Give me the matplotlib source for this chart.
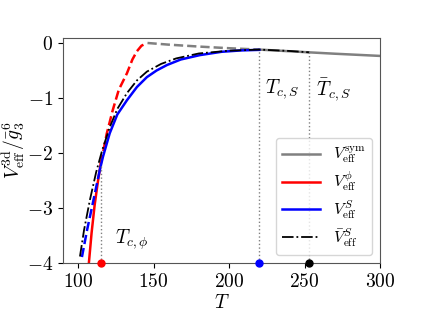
import matplotlib
matplotlib.use("Agg")
import matplotlib.pyplot as plt

plt.rcParams["font.family"] = "serif"
plt.rcParams["font.serif"] = ["cmr10"]
plt.rcParams["mathtext.fontset"] = "cm"
plt.rcParams["axes.formatter.use_mathtext"] = True
plt.rcParams["font.size"] = 14

# symmetric phase
T_sym = [146, 160, 180, 200, 220, 240, 253, 270, 285, 300]
V_sym = [0.0, -0.03, -0.065, -0.095, -0.12, -0.15, -0.17, -0.195, -0.215, -0.235]

# phi phase: solid (stable) and dashed (metastable)
T_phi_solid = [107.2, 109, 111, 113, 115]
V_phi_solid = [-4.0, -3.45, -2.95, -2.55, -2.2]
T_phi_dash = [115, 116.5, 119, 123, 127, 132.4, 136, 139, 142, 145.6]
V_phi_dash = [-2.2, -2.0, -1.65, -1.22, -0.85, -0.55, -0.3, -0.15, -0.05, 0.0]

# S phase
T_S_dash = [102.6, 106, 109.9, 114.5]
V_S_dash = [-3.89, -3.4, -2.9, -2.3]
T_S_solid = [114.5, 116.5, 121, 126, 132.4, 139, 145.6, 152, 158.9, 168, 180.7, 195, 208, 220]
V_S_solid = [-2.3, -2.07, -1.64, -1.3, -1.04, -0.8, -0.62, -0.5, -0.4, -0.3, -0.22, -0.16, -0.135, -0.125]

# bar S
T_Sb = [101.3, 104, 107.9, 112, 116, 121, 126, 132.4, 139, 145.6, 155, 165, 180, 200, 220, 240, 253]
V_Sb = [-3.88, -3.4, -2.85, -2.35, -1.95, -1.53, -1.2, -0.91, -0.68, -0.52, -0.38, -0.28, -0.19, -0.14, -0.12, -0.145, -0.17]

Tc_phi, Vc_phi = 115, -2.2
Tc_S, Vc_S = 219.8, -0.125
Tc_Sb, Vc_Sb = 253, -0.17

fig = plt.figure(figsize=(4.22, 3.17), dpi=100)
ax = fig.add_axes([0.149, 0.170, 0.752, 0.710])

ax.plot(T_sym[:5], V_sym[:5], color="gray", linestyle="--", linewidth=1.8)
ax.plot(T_sym[4:], V_sym[4:], color="gray", linewidth=1.8, label=r"$V_{\rm eff}^{\rm sym}$")
ax.plot(T_phi_dash, V_phi_dash, color="red", linestyle="--", linewidth=1.8)
ax.plot(T_phi_solid, V_phi_solid, color="red", linewidth=1.8, label=r"$V_{\rm eff}^{\phi}$")
ax.plot(T_S_dash, V_S_dash, color="blue", linestyle="--", linewidth=1.8)
ax.plot(T_S_solid, V_S_solid, color="blue", linewidth=1.8, label=r"$V_{\rm eff}^{S}$")
ax.plot(T_Sb, V_Sb, color="black", linestyle="-.", linewidth=1.3, label=r"$\bar{V}_{\rm eff}^{S}$")

for t, v, c in [(Tc_phi, Vc_phi, "red"), (Tc_S, Vc_S, "blue"), (Tc_Sb, Vc_Sb, "black")]:
    ax.plot([t, t], [-4, v], color="gray", linestyle=":", linewidth=1)
    ax.plot(t, -4, "o", color=c, markersize=5, clip_on=False, zorder=5)

ax.text(135.7, -3.58, r"$T_{c,\phi}$", ha="center", va="center")
ax.text(235, -0.84, r"$T_{c,S}$", ha="center", va="center")
ax.text(269, -0.84, r"$\bar{T}_{c,S}$", ha="center", va="center")

ax.set_xlim(90, 300)
ax.set_ylim(-4, 0.09)
ax.set_xticks([100, 150, 200, 250, 300])
ax.set_yticks([0, -1, -2, -3, -4])
ax.set_xlabel(r"$T$", labelpad=2)
ax.set_ylabel(r"$V_{\rm eff}^{\rm 3d}/\bar{g}_3^6$", labelpad=0)
for s in ax.spines.values():
    s.set_color("#555555")

ax.legend(loc="lower right", fontsize=11.5, handlelength=2.4, labelspacing=0.3,
          borderaxespad=0.5)

fig.savefig("out.png", dpi=100)
